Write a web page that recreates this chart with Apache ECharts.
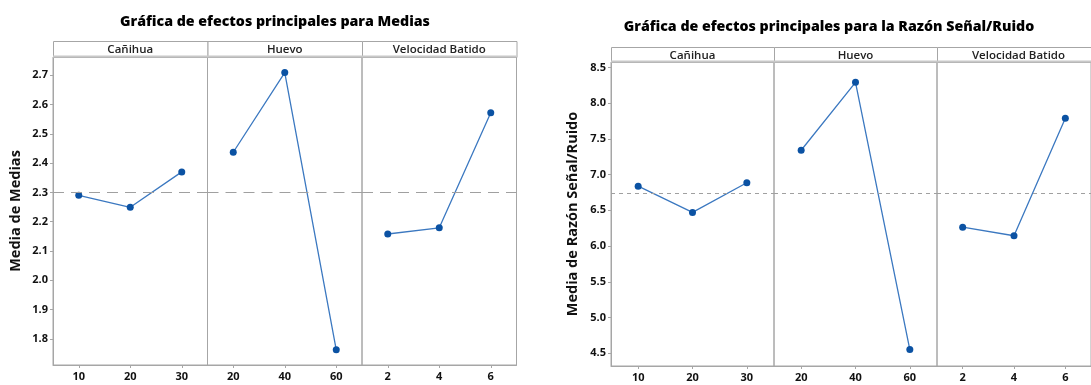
<!DOCTYPE html>
<html>
<head>
<meta charset="utf-8">
<script src="https://cdn.jsdelivr.net/npm/echarts@6/dist/echarts.min.js"></script>
<style>
  html, body { margin: 0; padding: 0; background: #ffffff; }
  #chart { width: 1091px; height: 385px; }
</style>
</head>
<body>
<div id="chart"></div>
<script>
// Factor levels (x categories for each panel)
const factorNames = ['Cañihua', 'Huevo', 'Velocidad Batido'];
const canihuaLevels = ['10', '20', '30'];
const huevoLevels = ['20', '40', '60'];
const velocidadLevels = ['2', '4', '6'];

// Means of the means per level
const mediasCanihua = [2.290, 2.249, 2.370];
const mediasHuevo = [2.437, 2.709, 1.763];
const mediasVelocidad = [2.158, 2.179, 2.572];
const mediaGlobalMedias = 2.303;
const mediasTicks = [1.8, 1.9, 2.0, 2.1, 2.2, 2.3, 2.4, 2.5, 2.6, 2.7];

// Means of the signal-to-noise ratio per level
const snCanihua = [6.838, 6.471, 6.886];
const snHuevo = [7.341, 8.291, 4.553];
const snVelocidad = [6.265, 6.145, 7.788];
const mediaGlobalSN = 6.737;
const snTicks = [4.5, 5.0, 5.5, 6.0, 6.5, 7.0, 7.5, 8.0, 8.5];

const levels = [canihuaLevels, huevoLevels, velocidadLevels];

const GRAY = '#a6a6a6';
const LINE_BLUE = '#3b78c0';
const MARK_BLUE = '#0b52a3';
const FONT = '"Open Sans", "DejaVu Sans", sans-serif';

const option = {
  animation: false,
  backgroundColor: '#ffffff',
  title: [],
  grid: [],
  xAxis: [],
  yAxis: [],
  series: [],
  graphic: []
};

function addPanelChart(cfg) {
  const height = cfg.bottom - cfg.top;
  for (let i = 0; i < 3; i++) {
    const idx = option.grid.length;
    const left = cfg.left + i * cfg.panelWidth;
    option.grid.push({
      left: left, top: cfg.top, width: cfg.panelWidth, height: height,
      show: true, borderColor: GRAY, borderWidth: 1,
      backgroundColor: 'transparent', containLabel: false
    });
    option.xAxis.push({
      type: 'category', gridIndex: idx, data: levels[i], boundaryGap: true,
      axisLine: { show: true, lineStyle: { color: GRAY, width: 1 } },
      axisTick: { show: true, alignWithLabel: true, length: 3, lineStyle: { color: GRAY } },
      axisLabel: { color: '#111', fontFamily: FONT, fontWeight: 'bold', fontSize: 11, margin: 6 },
      splitLine: { show: false }
    });
    const first = i === 0;
    option.yAxis.push({
      type: 'value', gridIndex: idx, min: cfg.yMin, max: cfg.yMax,
      name: first ? cfg.yName : '',
      nameLocation: 'middle', nameRotate: 90, nameGap: cfg.nameGap,
      nameTextStyle: { color: '#111', fontFamily: FONT, fontWeight: 'bold', fontSize: 14.5 },
      axisLine: { show: first, lineStyle: { color: GRAY, width: 1 } },
      axisTick: { show: first, length: 3, lineStyle: { color: GRAY }, customValues: cfg.ticks },
      axisLabel: {
        show: first, color: '#111', fontFamily: FONT, fontWeight: 'bold', fontSize: 11,
        margin: 5, customValues: cfg.ticks,
        formatter: v => Number(v).toFixed(1)
      },
      splitLine: { show: false }
    });
    option.series.push({
      type: 'line', xAxisIndex: idx, yAxisIndex: idx, data: cfg.values[i],
      symbol: 'circle', symbolSize: 7,
      itemStyle: { color: MARK_BLUE },
      lineStyle: { color: LINE_BLUE, width: 1.3 },
      markLine: {
        silent: true, symbol: 'none', label: { show: false },
        lineStyle: { color: '#a0a0a0', type: cfg.dash, width: 1 },
        data: [{ yAxis: cfg.grandMean }]
      }
    });
    // facet header cell
    option.graphic.push({
      type: 'rect', silent: true, z: 10,
      shape: { x: left + 0.5, y: cfg.headerTop + 0.5, width: cfg.panelWidth, height: cfg.top - cfg.headerTop },
      style: { fill: '#ffffff', stroke: GRAY, lineWidth: 1 }
    });
    option.graphic.push({
      type: 'text', silent: true, z: 11,
      x: left + cfg.panelWidth / 2, y: cfg.headerTop + (cfg.top - cfg.headerTop) / 2 + 1,
      style: {
        text: factorNames[i], align: 'center', verticalAlign: 'middle',
        fontFamily: FONT, fontWeight: 600, fontSize: 11.5, fill: '#222'
      }
    });
  }
  option.graphic.push({
    type: 'line', silent: true, z: 12,
    shape: { x1: cfg.left, y1: cfg.top - 0.5, x2: cfg.left + 3 * cfg.panelWidth, y2: cfg.top - 0.5 },
    style: { stroke: '#c8c8c8', lineWidth: 2 }
  });
  option.title.push({
    text: cfg.title, left: cfg.titleX, top: cfg.titleY, textAlign: 'center',
    textStyle: { color: '#000', fontFamily: FONT, fontWeight: 800, fontSize: 14.2 }
  });
}

addPanelChart({
  title: 'Gráfica de efectos principales para Medias', titleX: 270, titleY: 10,
  left: 53, panelWidth: 154.5, top: 57, bottom: 365, headerTop: 41,
  yMin: 1.711, yMax: 2.762, ticks: mediasTicks,
  yName: 'Media de Medias', nameGap: 30,
  values: [mediasCanihua, mediasHuevo, mediasVelocidad],
  grandMean: mediaGlobalMedias, dash: [11, 7]
});

addPanelChart({
  title: 'Gráfica de efectos principales para la Razón Señal/Ruido', titleX: 824, titleY: 15,
  left: 611, panelWidth: 163, top: 62, bottom: 366, headerTop: 47,
  yMin: 4.323, yMax: 8.575, ticks: snTicks,
  yName: 'Media de Razón Señal/Ruido', nameGap: 31,
  values: [snCanihua, snHuevo, snVelocidad],
  grandMean: mediaGlobalSN, dash: [4, 4]
});

const chart = echarts.init(document.getElementById('chart'), null, { renderer: 'canvas' });
chart.setOption(option);
</script>
</body>
</html>
